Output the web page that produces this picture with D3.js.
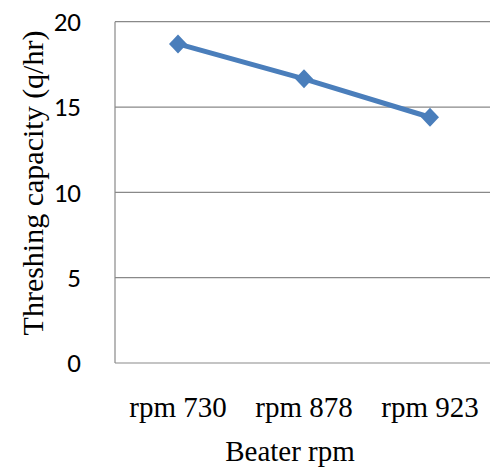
<!DOCTYPE html>
<html>
<head>
<meta charset="utf-8">
<script src="https://cdn.jsdelivr.net/npm/d3@7"></script>
<style>
  html, body { margin: 0; padding: 0; background: #fff; }
  svg { display: block; }
</style>
</head>
<body>
<svg id="chart" width="490" height="468"></svg>
<script>
const categories = ["rpm 730", "rpm 878", "rpm 923"];
const values = [18.7, 16.65, 14.4];
const yTicks = [0, 5, 10, 15, 20];
const yLabel = "Threshing capacity (q/hr)";
const xLabel = "Beater rpm";

const svg = d3.select("#chart");
const plotLeft = 115, plotRight = 493, plotTop = 21.7, plotBottom = 363;

const x = d3.scaleBand().domain(categories).range([plotLeft, plotRight]);
const y = d3.scaleLinear().domain([0, 20]).range([plotBottom, plotTop]);

// gridlines
svg.append("g")
  .selectAll("line")
  .data(yTicks.filter(d => d > 0))
  .join("line")
  .attr("x1", plotLeft).attr("x2", plotRight)
  .attr("y1", d => y(d)).attr("y2", d => y(d))
  .attr("stroke", "#898989").attr("stroke-width", 1.2);

// axes lines
svg.append("line").attr("x1", plotLeft).attr("x2", plotLeft).attr("y1", plotTop).attr("y2", plotBottom)
  .attr("stroke", "#898989").attr("stroke-width", 1.2);
svg.append("line").attr("x1", plotLeft).attr("x2", plotRight).attr("y1", plotBottom).attr("y2", plotBottom)
  .attr("stroke", "#898989").attr("stroke-width", 1.2);

// y tick labels
svg.append("g")
  .selectAll("text")
  .data(yTicks)
  .join("text")
  .attr("x", 81)
  .attr("y", d => y(d))
  .attr("dy", "0.34em")
  .attr("text-anchor", "end")
  .attr("font-family", "Carlito, 'Open Sans', sans-serif")
  .attr("font-size", 27)
  .attr("fill", "#000")
  .text(d => d);

// x tick labels
svg.append("g")
  .selectAll("text")
  .data(categories)
  .join("text")
  .attr("x", d => x(d) + x.bandwidth() / 2)
  .attr("y", 417)
  .attr("text-anchor", "middle")
  .attr("font-family", "'Liberation Serif', 'Times New Roman', serif")
  .attr("font-size", 29)
  .attr("fill", "#000")
  .text(d => d);

// axis titles
svg.append("text")
  .attr("x", 290).attr("y", 461)
  .attr("text-anchor", "middle")
  .attr("font-family", "'Liberation Serif', 'Times New Roman', serif")
  .attr("font-size", 29)
  .text(xLabel);

svg.append("text")
  .attr("transform", "translate(43,183) rotate(-90)")
  .attr("text-anchor", "middle")
  .attr("font-family", "'Liberation Serif', 'Times New Roman', serif")
  .attr("font-size", 30)
  .text(yLabel);

// line
const pts = categories.map((c, i) => [x(c) + x.bandwidth() / 2, y(values[i])]);
svg.append("path")
  .attr("d", d3.line()(pts))
  .attr("fill", "none")
  .attr("stroke", "#4A7EBB")
  .attr("stroke-width", 5)
  .attr("stroke-linejoin", "round");

// markers
svg.append("g")
  .selectAll("path")
  .data(pts)
  .join("path")
  .attr("transform", d => `translate(${d[0]},${d[1]})`)
  .attr("d", "M0,-9.5L9,0L0,9.5L-9,0Z")
  .attr("fill", "#4A7EBB");
</script>
</body>
</html>
